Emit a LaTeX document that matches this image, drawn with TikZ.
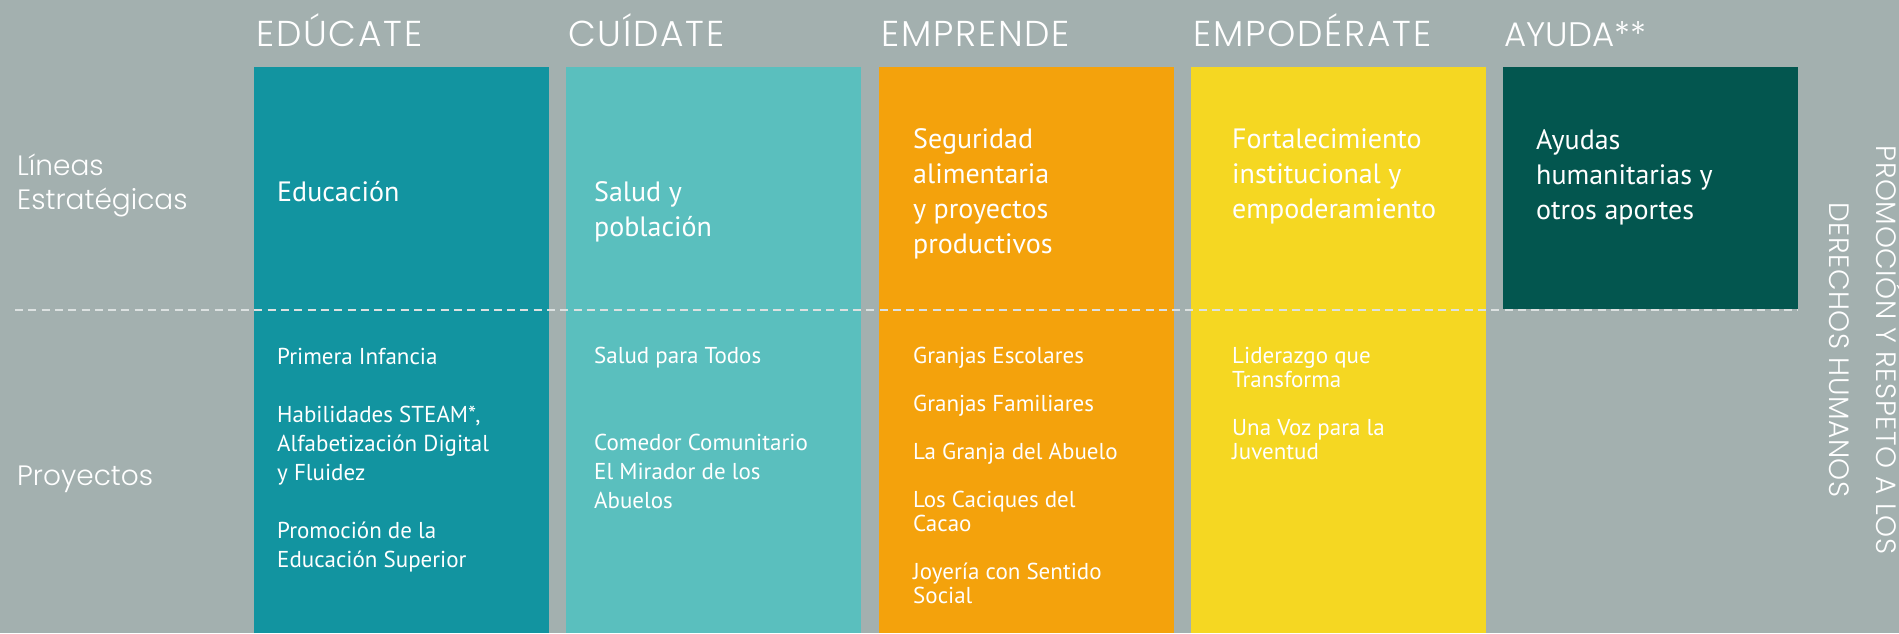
\documentclass[tikz,border=0pt]{standalone}
\usepackage{fontspec}
\setmainfont{PT Sans}
\newfontfamily\headfont{Poppins Light}
\newfontfamily\headwide{Poppins Light}[LetterSpace=5]
\newfontfamily\vertfont{Poppins Light}[LetterSpace=2]
\definecolor{bg}{HTML}{A3B0AF}
\definecolor{cteal}{HTML}{1294A0}
\definecolor{clteal}{HTML}{5ABFBE}
\definecolor{corange}{HTML}{F4A20C}
\definecolor{cyellow}{HTML}{F5D722}
\definecolor{cdark}{HTML}{03564F}
\definecolor{cdash}{HTML}{DCE1E1}
\newcommand\tstrut{\rule{0pt}{1em}}
\tikzset{
  head/.style={font=\headwide\fontsize{36}{40}\selectfont, text=white, anchor=base west, inner sep=0pt},
  headn/.style={font=\headfont\fontsize{34}{40}\selectfont, text=white, anchor=base west, inner sep=0pt},
  side/.style={font=\headfont\fontsize{28}{34}\selectfont, text=white, anchor=north west, inner sep=0pt, align=left},
  vert/.style={font=\vertfont\fontsize{28}{34}\selectfont, text=white, anchor=base, inner sep=0pt, rotate=-90},
  linea/.style={font=\fontsize{28}{35}\selectfont, text=white, anchor=north west, inner sep=0pt, align=left},
  proj/.style={font=\fontsize{23}{29}\selectfont, text=white, anchor=north west, inner sep=0pt, align=left},
  projc/.style={font=\fontsize{23}{24}\selectfont, text=white, anchor=north west, inner sep=0pt, align=left},
  dashline/.style={draw=cdash, line width=2.4pt, dash pattern=on 8pt off 5.3pt}
}
\begin{document}
\begin{tikzpicture}[x=1pt,y=-1pt]
\useasboundingbox (0,0) rectangle (1899,633);
\fill[bg] (0,0) rectangle (1899,633);
% columns
\fill[cteal]   (254,67) rectangle (549,633);
\fill[clteal]  (566,67) rectangle (861,633);
\fill[corange] (879,67) rectangle (1174,633);
\fill[cyellow] (1191,67) rectangle (1486,633);
\fill[cdark]   (1503,67) rectangle (1798,309);
% dashed separator
\coordinate (dashL) at (15,310);
\coordinate (dashR) at (1798,310);
\draw[dashline] (dashL) -- (dashR);
% headings
\node[head] (h1) at (256,46) {EDÚCATE};
\node[head] (h2) at (568,46) {CUÍDATE};
\node[head] (h3) at (881,46) {EMPRENDE};
\node[head] (h4) at (1193,46) {EMPODÉRATE};
\node[headn] (h5) at (1504,46) {AYUDA**};
% side labels
\node[side] (lineas) at (17,147) {\tstrut Líneas\\Estratégicas};
\node[side] (proy) at (17,457) {\tstrut Proyectos};
% strategic lines
\node[linea] (l1) at (277,173) {\tstrut Educación};
\node[linea] (l2) at (594,173) {\tstrut Salud y\\población};
\node[linea] (l3) at (913,120) {\tstrut Seguridad\\alimentaria\\y proyectos\\productivos};
\node[linea] (l4) at (1232,120) {\tstrut Fortalecimiento\\institucional y\\empoderamiento};
\node[linea] (l5) at (1536,121) {\tstrut Ayudas\\humanitarias y\\otros aportes};
% projects
\node[proj] (p1) at (277,341) {\tstrut Primera Infancia\\[29pt]Habilidades STEAM*,\\Alfabetización Digital\\y Fluidez\\[29pt]Promoción de la\\Educación Superior};
\node[proj] (p2) at (594,340) {\tstrut Salud para Todos\\[58pt]Comedor Comunitario\\El Mirador de los\\Abuelos};
\node[projc] (p3) at (913,340) {\tstrut Granjas Escolares\\[24pt]Granjas Familiares\\[24pt]La Granja del Abuelo\\[24pt]Los Caciques del\\Cacao\\[24pt]Joyería con Sentido\\Social};
\node[projc] (p4) at (1232,340) {\tstrut Liderazgo que\\Transforma\\[24pt]Una Voz para la\\Juventud};
% vertical label
\node[vert] (v1) at (1876,350) {PROMOCIÓN Y RESPETO A LOS};
\node[vert] (v2) at (1829,350) {DERECHOS HUMANOS};
\end{tikzpicture}
\end{document}
